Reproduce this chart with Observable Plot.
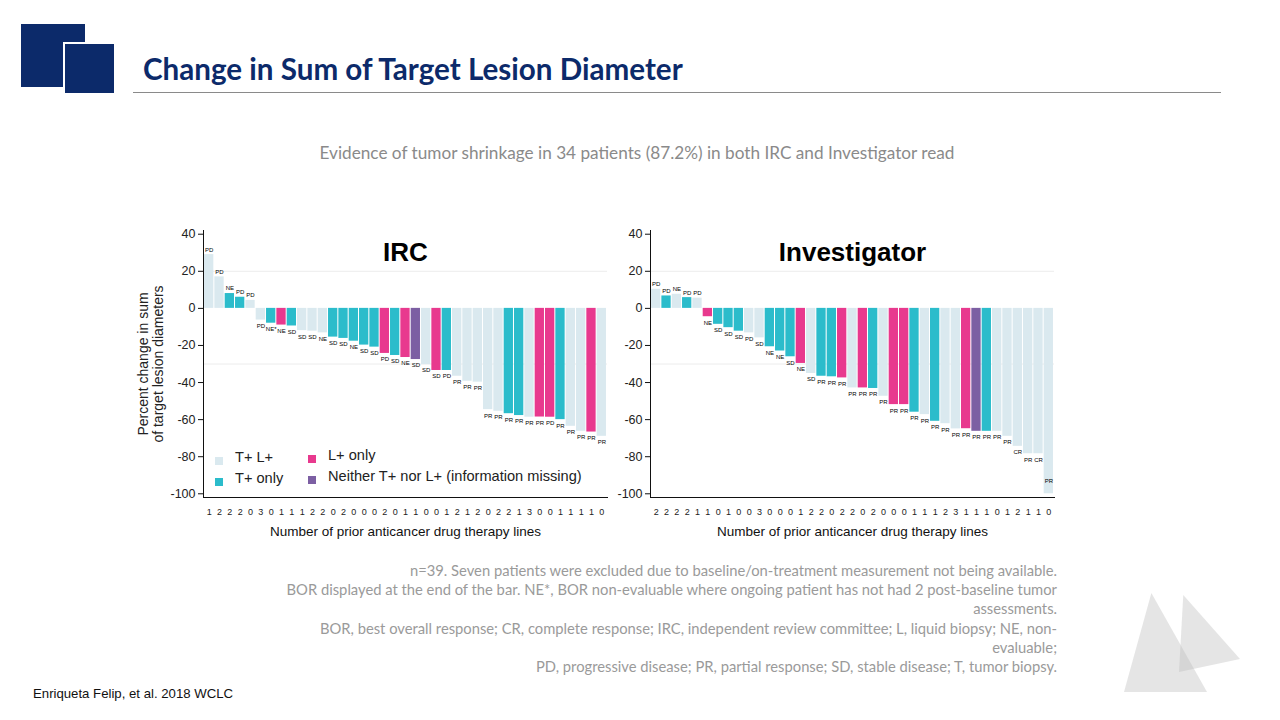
<!DOCTYPE html>
<html>
<head>
<meta charset="utf-8">
<script src="https://cdn.jsdelivr.net/npm/d3@7"></script>
<script src="https://cdn.jsdelivr.net/npm/@observablehq/plot@0.6"></script>
<style>
  html, body { margin: 0; padding: 0; background: #fff; }
  #page { position: relative; width: 1280px; height: 720px; overflow: hidden; background: #fff; font-family: "Liberation Sans", Arial, sans-serif; }
  .abs { position: absolute; }
  #title { left: 143px; top: 51px; font-family: Lato, "Open Sans", sans-serif; font-weight: 700; font-size: 29.6px; color: #0c2a6a; white-space: nowrap; }
  #rule { left: 133px; top: 92px; width: 1088px; height: 1px; background: #8a8a8a; }
  #subtitle { left: 0; width: 1274px; top: 142px; text-align: center; font-family: Lato, sans-serif; font-size: 17.2px; color: #8a8a8a; white-space: nowrap; }
  #notes { right: 223px; top: 561px; text-align: right; font-family: Lato, sans-serif; font-size: 14.75px; line-height: 19.2px; color: #9a9a9a; white-space: nowrap; }
  #cite { left: 33px; top: 686px; font-size: 13.2px; color: #111; }
  .legend { font-size: 14.6px; color: #222; white-space: nowrap; }
  .sw { position: absolute; width: 8px; height: 8px; }
</style>
</head>
<body>
<div id="page">
  <div class="abs" style="left:21px;top:24px;width:64px;height:63px;background:#0c2a6a"></div>
  <div class="abs" style="left:63px;top:42px;width:49px;height:49px;background:#0c2a6a;border:2px solid #fff"></div>
  <div id="title" class="abs">Change in Sum of Target Lesion Diameter</div>
  <div id="rule" class="abs"></div>
  <div id="subtitle" class="abs">Evidence of tumor shrinkage in 34 patients (87.2%) in both IRC and Investigator read</div>
  <div id="irc" class="abs" style="left:130px;top:225px"></div>
  <div id="inv" class="abs" style="left:577px;top:225px"></div>
  <div id="legend" class="abs legend" style="left:0;top:0"></div>
  <div id="notes" class="abs">n=39. Seven patients were excluded due to baseline/on-treatment measurement not being available.<br>BOR displayed at the end of the bar. NE*, BOR non-evaluable where ongoing patient has not had 2 post-baseline tumor<br>assessments.<br>BOR, best overall response; CR, complete response; IRC, independent review committee; L, liquid biopsy; NE, non-<br>evaluable;<br>PD, progressive disease; PR, partial response; SD, stable disease; T, tumor biopsy.</div>
  <div id="cite" class="abs">Enriqueta Felip, et al. 2018 WCLC</div>
  <div class="abs" style="left:1124px;top:593px;width:83px;height:99px;background:rgba(190,190,190,0.4);clip-path:polygon(33% 0,100% 100%,0 100%)"></div>
  <div class="abs" style="left:1179px;top:595px;width:61px;height:77px;background:rgba(190,190,190,0.4);clip-path:polygon(7% 0,100% 83%,0 100%)"></div>
</div>
<script>
// ---------- data ----------
const groupNames = ["T+ L+", "T+ only", "L+ only", "Neither T+ nor L+ (information missing)"];
const groupColors = ["#dae9ef", "#2bbccb", "#e8398e", "#7c5fa3"];

// IRC
const ircValues = [29, 17, 8, 6, 4.3, -6.3, -8, -9, -9.5, -12, -12.3, -13.2, -15.5, -16.2, -17.7, -19.8, -20.9, -24.3, -25.4, -26.5, -27.6, -30.3, -33.5, -33.5, -36.6, -39.3, -39.8, -54.6, -55.5, -56.8, -57.8, -58.7, -58.6, -58.7, -60, -63.6, -66.3, -66.7, -69];
const ircGroups = [0,0,1,1,0,0,1,2,1,0,0,0,1,1,1,1,1,2,1,2,3,0,2,1,0,0,0,0,0,1,1,0,2,2,1,0,0,2,0];
const ircBor = ["PD","PD","NE","PD","PD","PD","NE*","NE","SD","SD","SD","NE","SD","SD","NE","SD","SD","PD","SD","NE","SD","SD","SD","PD","PR","PR","PR","PR","PR","PR","PR","PR","PR","PD","PR","PR","PR","PR","PR"];
const ircLines = [1,2,2,2,0,3,0,1,1,1,2,2,0,2,0,0,0,2,0,1,1,0,0,1,2,1,2,0,2,2,1,3,0,0,1,1,1,1,0];

// Investigator
const invValues = [10.3, 6.7, 7.6, 5.8, 5.5, -4.5, -8.6, -10.4, -12.3, -13.2, -15.9, -20.7, -23, -26.1, -29.7, -35.1, -36.6, -36.9, -37.5, -42.9, -42.9, -43.2, -47.4, -51.9, -51.9, -56, -57.3, -60.9, -62.2, -65, -64.9, -66.3, -66.3, -66.3, -69, -74.4, -78.4, -78.4, -100];
const invGroups = [0,1,0,1,0,2,1,1,1,0,0,1,1,1,2,0,1,1,2,0,2,1,0,2,2,1,0,1,0,0,2,3,1,0,0,0,0,0,0];
const invBor = ["PD","PD","NE","PD","PD","NE","SD","SD","SD","PD","SD","NE","NE","SD","NE","SD","PR","PR","PR","PR","PR","PR","PR","PR","PR","PR","PR","PR","PR","PR","PR","PR","PR","PR","PR","CR","PR","CR","PR"];
const invLines = [2,2,2,2,1,1,0,1,0,0,3,0,0,0,1,2,2,0,2,2,0,2,0,0,0,1,1,1,2,3,1,1,1,0,1,2,1,1,0];

const yTicks = [40, 20, 0, -20, -40, -60, -80, -100];
const refLines = [20, -30];
const xLabel = "Number of prior anticancer drug therapy lines";
const yLabel = "Percent change in sum\nof target lesion diameters";

function makeChart(values, groups, bor, lines, title, withYLabel) {
  const rows = values.map((v, i) => ({i, v, g: groupNames[groups[i]], bor: bor[i], line: lines[i]}));
  const marks = [
    Plot.ruleY(refLines, {stroke: "#ececec", strokeWidth: 1}),
    Plot.barY(rows, {x: "i", y: "v", fill: "g"}),
    Plot.text(rows.filter(d => d.v >= 0), {x: "i", y: "v", text: "bor", dy: -5, fontSize: 6, fill: "#000"}),
    Plot.text(rows.filter(d => d.v < 0), {x: "i", y: d => Math.max(d.v, -90), text: "bor", dy: 6, fontSize: 6, fill: "#000"}),
    Plot.frame({anchor: "left", stroke: "#111"}),
    Plot.frame({anchor: "bottom", stroke: "#111"}),
    Plot.axisY({ticks: yTicks, tickSize: 5, tickPadding: 3, fontSize: 12.5, label: null, stroke: "#111", tickFormat: d => String(d)}),
    Plot.axisX({tickSize: 0, tickPadding: 11, tickFormat: i => lines[i], fontSize: 9, label: null}),
    Plot.text([title], {frameAnchor: "top", lineAnchor: "middle", dy: 22, fontSize: 26, fontWeight: "bold", fill: "#000"}),
    Plot.text([xLabel], {frameAnchor: "bottom", lineAnchor: "middle", dy: 34, fontSize: 13.5, fill: "#111"})
  ];
  if (withYLabel) {
    marks.push(Plot.text([yLabel], {frameAnchor: "left", textAnchor: "middle", lineAnchor: "middle", dx: -53, rotate: -90, fontSize: 14, lineHeight: 1.1, fill: "#222"}));
  }
  return Plot.plot({
    width: 485,
    height: 320,
    marginLeft: 73,
    marginRight: 8,
    marginTop: 5,
    marginBottom: 48,
    style: {fontFamily: "'Liberation Sans', Arial, sans-serif", background: "transparent", color: "#222", overflow: "visible"},
    x: {type: "band", domain: d3.range(values.length), padding: 0.1, round: false, axis: null},
    y: {domain: [-102, 42], axis: null},
    color: {domain: groupNames, range: groupColors},
    marks
  });
}

document.getElementById("irc").appendChild(makeChart(ircValues, ircGroups, ircBor, ircLines, "IRC", true));
document.getElementById("inv").appendChild(makeChart(invValues, invGroups, invBor, invLines, "Investigator", false));

// legend
const legendPos = [[215, 456], [215, 477], [308, 454], [308, 475]];
const lg = document.getElementById("legend");
groupNames.forEach((name, k) => {
  const [x, y] = legendPos[k];
  const sw = document.createElement("div");
  sw.className = "sw";
  sw.style.left = x + "px"; sw.style.top = (y + 1) + "px"; sw.style.background = groupColors[k];
  lg.appendChild(sw);
  const t = document.createElement("div");
  t.style.position = "absolute"; t.style.left = (x + 20) + "px"; t.style.top = (y - 7) + "px";
  t.textContent = name;
  lg.appendChild(t);
});
</script>
</body>
</html>
